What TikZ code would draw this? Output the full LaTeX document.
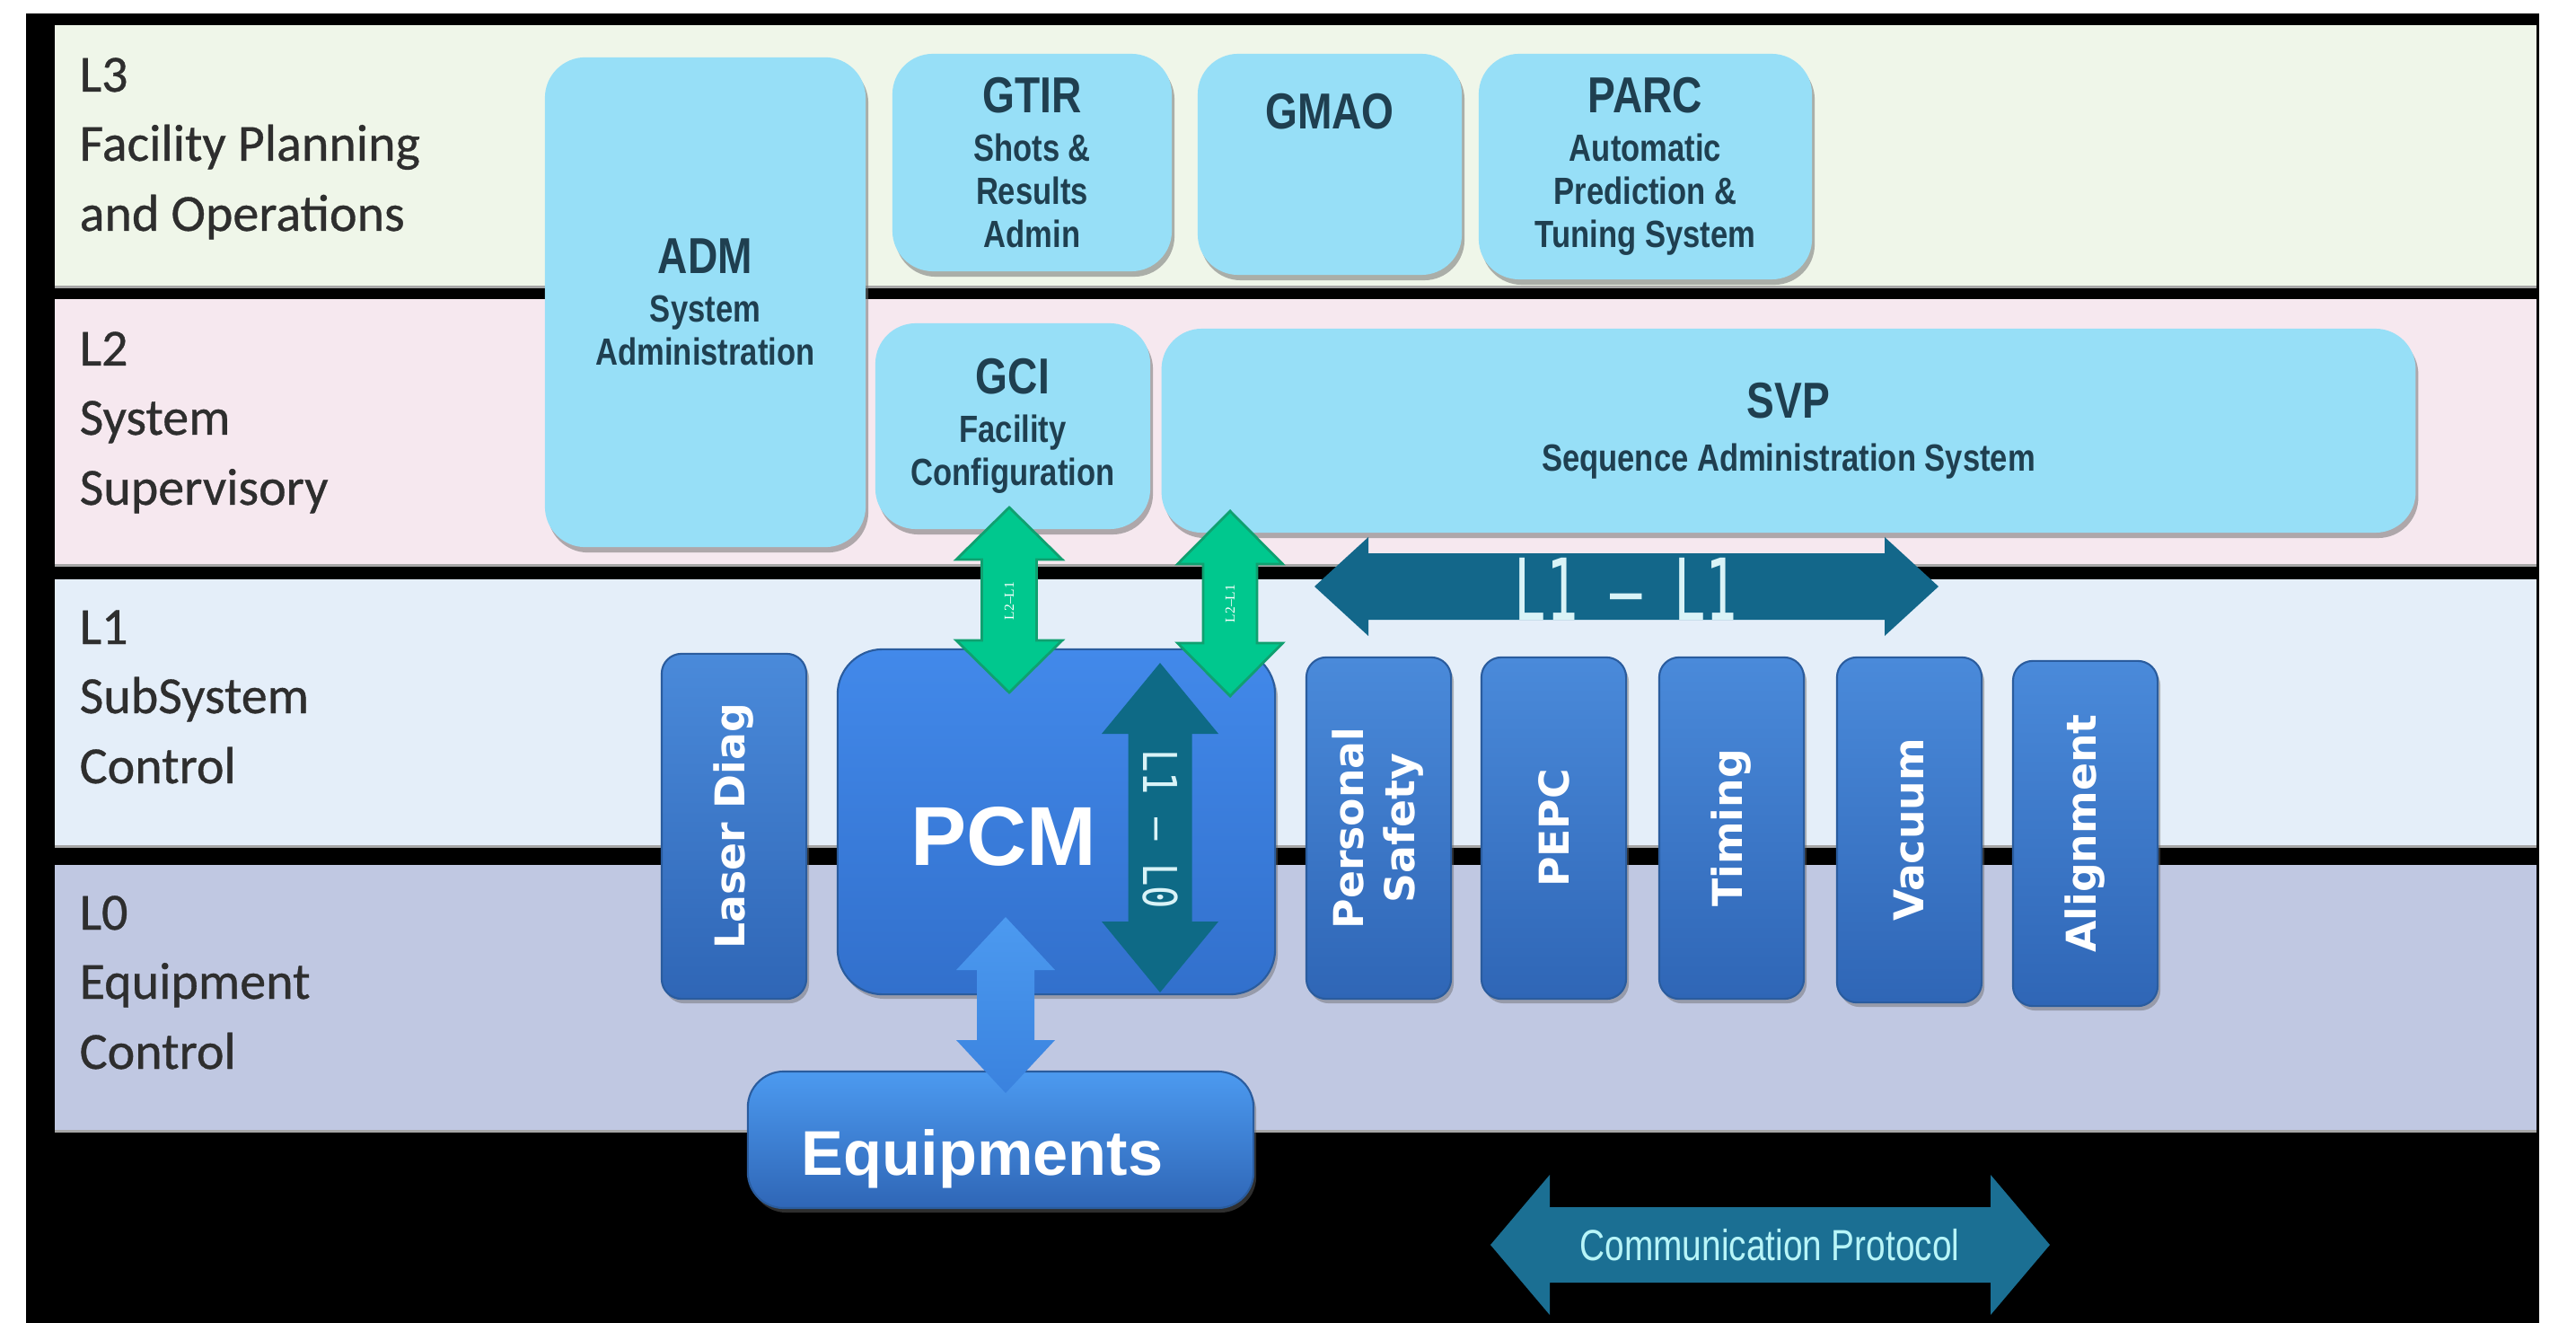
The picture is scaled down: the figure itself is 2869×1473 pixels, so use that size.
\documentclass[tikz,border=0pt]{standalone}
\usepackage{fontspec}
\setmainfont{Carlito}
\newfontfamily\levfont{Carlito}[FakeBold=0.6]
\newfontfamily\nar[FakeStretch=0.82]{Liberation Sans}
\newfontfamily\arl{Liberation Sans}
\newfontfamily\dvs{DejaVu Sans}
\newfontfamily\dvm{DejaVu Sans Mono}
\newfontfamily\tms{Liberation Serif}
\usetikzlibrary{shadows}
\definecolor{bandLiii}{HTML}{EFF6E9}
\definecolor{bandLii}{HTML}{F6E8EF}
\definecolor{bandLi}{HTML}{E4EEF9}
\definecolor{bandLo}{HTML}{C0C8E2}
\definecolor{levtext}{HTML}{2E2E2E}
\definecolor{lbfill}{HTML}{97DFF7}
\definecolor{lbtext}{HTML}{1F3F50}
\definecolor{dbtop}{HTML}{4A8ADA}
\definecolor{dbbot}{HTML}{2F66B6}
\definecolor{dbedge}{HTML}{2A5C9E}
\definecolor{pcmtop}{HTML}{4289EA}
\definecolor{pcmbot}{HTML}{3270CC}
\definecolor{grn}{HTML}{00C88E}
\definecolor{grnedge}{HTML}{10A070}
\definecolor{tealA}{HTML}{13678A}
\definecolor{tealB}{HTML}{0E6A86}
\definecolor{tealC}{HTML}{1B6F93}
\definecolor{lighttxt}{HTML}{D9F3F7}
\definecolor{eqtop}{HTML}{4C9AF0}
\definecolor{eqbot}{HTML}{3A82DE}
\newcommand{\boxtitle}[1]{{\fontsize{16}{16}\selectfont #1}}
% vertical double block arrow: style, cx, ytop, ybot, head half width, shaft half width, head length
\newcommand{\vdarr}[7]{%
  \path[#1] (#2,#3) -- ({#2+#5},{#3+#7}) -- ({#2+#6},{#3+#7}) -- ({#2+#6},{#4-#7}) -- ({#2+#5},{#4-#7}) -- (#2,#4) -- ({#2-#5},{#4-#7}) -- ({#2-#6},{#4-#7}) -- ({#2-#6},{#3+#7}) -- ({#2-#5},{#3+#7}) -- cycle;}
% horizontal double block arrow: style, cy, xleft, xright, head half height, shaft half height, head length
\newcommand{\hdarr}[7]{%
  \path[#1] (#3,#2) -- ({#3+#7},{#2-#5}) -- ({#3+#7},{#2-#6}) -- ({#4-#7},{#2-#6}) -- ({#4-#7},{#2-#5}) -- (#4,#2) -- ({#4-#7},{#2+#5}) -- ({#4-#7},{#2+#6}) -- ({#3+#7},{#2+#6}) -- ({#3+#7},{#2+#5}) -- cycle;}
\begin{document}
\begin{tikzpicture}[x=0.01cm,y=-0.01cm,
  lev/.style={anchor=base west, inner sep=0pt, text=levtext, font=\levfont\fontsize{16.5}{20}\selectfont},
  lbox/.style={rounded corners=0.45cm, fill=lbfill, inner sep=0pt, align=center, text=lbtext,
    drop shadow={shadow xshift=0.03cm, shadow yshift=-0.06cm, fill=black!55, opacity=0.55},
    font=\nar\bfseries\fontsize{12}{13.7}\selectfont},
  dbox/.style={rounded corners=0.22cm, top color=dbtop, bottom color=dbbot, draw=dbedge, line width=0.6pt,
    inner sep=0pt, text=white, minimum width=1.61cm,
    drop shadow={shadow xshift=0.03cm, shadow yshift=-0.05cm, fill=black!60, opacity=0.45},
    font=\dvs\bfseries\fontsize{13}{16.2}\selectfont},
  pcmbox/.style={rounded corners=0.5cm, top color=pcmtop, bottom color=pcmbot, draw=dbedge, line width=0.6pt,
    drop shadow={shadow xshift=0.03cm, shadow yshift=-0.05cm, fill=black!60, opacity=0.45}},
  eqbox/.style={rounded corners=0.4cm, top color=eqtop, bottom color=dbbot, draw=dbedge, line width=0.6pt,
    drop shadow={shadow xshift=0.03cm, shadow yshift=-0.05cm, fill=black!60, opacity=0.45}},
  greenarrow/.style={fill=grn, draw=grnedge, line width=0.8pt},
  glab/.style={text=white, inner sep=0pt, font=\tms\fontsize{4.4}{5}\selectfont},
  tlab/.style={text=lighttxt, inner sep=0pt}
]
\useasboundingbox (0,0) rectangle (2869,1473);
\fill[white] (0,0) rectangle (2869,1473);
\fill[black] (29,15) rectangle (2828,1473);
% level bands
\fill[bandLiii] (61,28) rectangle (2825,320);
\fill[bandLii] (61,333) rectangle (2825,630);
\fill[bandLi] (61,645) rectangle (2825,943);
\fill[bandLo] (61,963) rectangle (2825,1260);
\foreach \yy in {318,628,941,1258} \fill[black!35] (61,\yy) rectangle (2825,\yy+3);

% level labels
\node[lev] (l3a) at (88,102) {L3};
\node[lev] (l3b) at (88,179) {Facility Planning};
\node[lev] (l3c) at (88,257) {and Operations};
\node[lev] (l2a) at (88,407) {L2};
\node[lev] (l2b) at (88,484) {System};
\node[lev] (l2c) at (88,562) {Supervisory};
\node[lev] (l1a) at (88,717) {L1};
\node[lev] (l1b) at (88,794) {SubSystem};
\node[lev] (l1c) at (88,872) {Control};
\node[lev] (l0a) at (88,1035) {L0};
\node[lev] (l0b) at (88,1112) {Equipment};
\node[lev] (l0c) at (88,1190) {Control};

% L3 / L2 boxes
\node[lbox, minimum width=3.57cm, minimum height=5.45cm] (adm) at (785.5,336.5)
  {\boxtitle{ADM}\\[1.7pt]System\\Administration};
\node[lbox, minimum width=3.11cm, minimum height=2.42cm] (gtir) at (1149.5,181)
  {\boxtitle{GTIR}\\[1.7pt]Shots \&\\Results\\Admin};
\node[lbox, minimum width=2.94cm, minimum height=2.46cm] (gmao) at (1481,183) {};
\node[text=lbtext, inner sep=0pt, font=\nar\bfseries\fontsize{16}{16}\selectfont] (gmaot) at (1481,124) {GMAO};
\node[lbox, minimum width=3.71cm, minimum height=2.51cm] (parc) at (1832.5,185.5)
  {\boxtitle{PARC}\\[1.7pt]Automatic\\Prediction \&\\Tuning System};
\node[lbox, minimum width=3.06cm, minimum height=2.29cm] (gci) at (1128,474.5)
  {\boxtitle{GCI}\\[1.7pt]Facility\\Configuration};
\node[lbox, minimum width=13.96cm, minimum height=2.27cm] (svp) at (1992,479.5)
  {\boxtitle{SVP}\\[3pt]Sequence Administration System};

% L1 / L0 boxes
\node[dbox, minimum height=3.84cm] (laser) at (817.5,920) {\rotatebox{90}{Laser Diag}};
\node[pcmbox, minimum width=4.87cm, minimum height=3.84cm] (pcm) at (1176.5,915) {};
\node[text=white, inner sep=0pt, font=\arl\bfseries\fontsize{26.5}{26.5}\selectfont] (pcmt) at (1118,931) {PCM};
\node[dbox, minimum height=3.80cm] (pers) at (1535.5,922)
  {\rotatebox{90}{\begin{tabular}{@{}c@{}}Personal\\Safety\end{tabular}}};
\node[dbox, minimum height=3.80cm] (pepc) at (1730.5,922) {\rotatebox{90}{PEPC}};
\node[dbox, minimum height=3.80cm] (timing) at (1928.5,922) {\rotatebox{90}{Timing}};
\node[dbox, minimum height=3.84cm] (vacuum) at (2126.5,924) {\rotatebox{90}{Vacuum}};
\node[dbox, minimum height=3.84cm] (alignm) at (2322.5,928) {\rotatebox{90}{Alignment}};
\node[eqbox, minimum width=5.63cm, minimum height=1.52cm] (equip) at (1114.5,1269) {};
\node[text=white, inner sep=0pt, font=\arl\bfseries\fontsize{20}{20}\selectfont] (equipt) at (1094,1290) {Equipments};

% block arrows
\vdarr{greenarrow}{1124}{565}{771}{59}{30.5}{58}
\vdarr{greenarrow}{1370}{569}{775}{58.5}{30}{59}
\node[glab, rotate=90] (g1t) at (1124,669) {L2–L1};
\node[glab, rotate=90] (g2t) at (1370,672) {L2–L1};

\hdarr{fill=tealA}{653}{1464}{2159}{55}{37}{60}
\node[tlab, font=\dvm\fontsize{27}{27}\selectfont] (l11t) at (1811,656) {\scalebox{0.62}[1]{L1 – L1}};

\vdarr{fill=tealB}{1292}{738}{1105}{65}{35.5}{79}
\node[tlab, rotate=-90, font=\dvm\fontsize{14.8}{15}\selectfont] (l10t) at (1292,923) {\scalebox{0.81}[1]{L1 – L0}};

\vdarr{top color=eqtop, bottom color=eqbot}{1120}{1021}{1217}{55}{32}{59}

\hdarr{fill=tealC}{1386}{1660}{2283}{78}{42}{66}
\node[tlab, text=lighttxt!85!cyan, font=\arl\fontsize{13.8}{14}\selectfont] (commt) at (1971,1386) {\scalebox{0.8}[1]{Communication Protocol}};
\end{tikzpicture}
\end{document}
